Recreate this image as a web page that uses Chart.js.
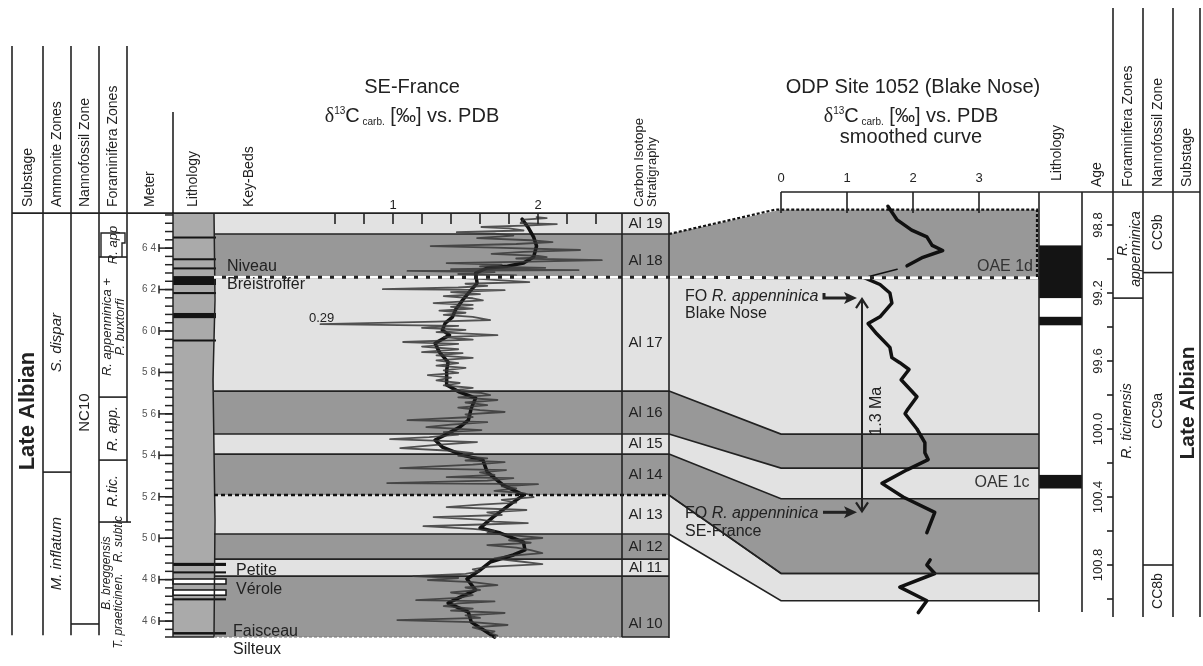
<!DOCTYPE html>
<html>
<head>
<meta charset="utf-8">
<script src="https://cdn.jsdelivr.net/npm/chart.js@4.4.1/dist/chart.umd.min.js"></script>
<style>
html, body { margin: 0; padding: 0; background: #fff; }
canvas { display: block; }
</style>
</head>
<body>
<canvas id="strat" width="1203" height="666"></canvas>
<script>
// ---------- data (meters for SE-France, Ma for Blake Nose) ----------
var bedNames  = ['Al 19', 'Al 18', 'Al 17', 'Al 16', 'Al 15', 'Al 14', 'Al 13', 'Al 12', 'Al 11', 'Al 10'];
var bedBounds = [65.69, 64.68, 62.60, 57.10, 55.03, 54.06, 52.08, 50.20, 48.99, 48.17, 45.23];

// correlation ties SE-France (m) -> Blake Nose (Ma)
var tieMeters = [64.68, 62.60, 57.10, 55.03, 54.06, 52.08, 50.20];
var tieAges   = [98.71, 99.11, 100.03, 100.23, 100.41, 100.85, 101.01];

// SE-France d13C smoothed curve
var seSmoothM = [65.40, 65.02, 64.53, 64.10, 63.57, 63.28, 63.13, 63.04, 62.80, 62.31, 61.83, 61.49, 61.01, 60.67, 60.38, 60.04,
  59.80, 59.41, 58.98, 58.50, 58.11, 57.39, 57.05, 56.76, 56.28, 55.70, 55.36, 54.98, 54.74, 54.40, 54.01, 53.77, 53.19,
  52.56, 52.08, 51.69, 51.02, 50.49, 50.25, 49.81, 49.43, 49.19, 48.85, 48.46, 48.03, 47.50, 47.11, 46.87, 46.43, 45.95, 45.23];
var seSmoothV = [1.89, 1.93, 1.97, 1.99, 1.97, 1.90, 1.79, 1.65, 1.57, 1.58, 1.52, 1.48, 1.43, 1.41, 1.36, 1.34,
  1.39, 1.29, 1.32, 1.38, 1.37, 1.37, 1.46, 1.57, 1.54, 1.52, 1.46, 1.36, 1.29, 1.34, 1.48, 1.62, 1.65,
  1.76, 1.90, 1.82, 1.69, 1.60, 1.74, 1.90, 1.91, 1.83, 1.67, 1.60, 1.51, 1.57, 1.45, 1.38, 1.52, 1.54, 1.70];

// SE-France d13C raw measurements
var seRawM = [65.50, 65.45, 65.38, 65.21, 65.16, 65.10, 65.02, 64.95, 64.85, 64.77, 64.70, 64.60, 64.48, 64.38, 64.29, 64.20,
  64.10, 64.02, 63.91, 63.82, 63.72, 63.63, 63.57, 63.50, 63.42, 63.35, 63.28, 63.20, 63.12, 63.05, 62.99, 62.94,
  62.90, 62.84, 62.75, 62.68, 62.60, 62.52, 62.44, 62.36, 62.28, 62.18, 62.10, 62.02, 61.97, 61.88, 61.78, 61.68,
  61.58, 61.48, 61.35, 61.26, 61.16, 61.08, 60.98, 60.88, 60.78, 60.68, 60.53, 60.45, 60.33, 60.25, 60.15, 60.05,
  59.95, 59.80, 59.70, 59.58, 59.47, 59.38, 59.25, 59.12, 58.98, 58.93, 58.82, 58.70, 58.58, 58.45, 58.33, 58.22,
  58.10, 57.98, 57.87, 57.75, 57.62, 57.49, 57.38, 57.25, 57.12, 57.02, 56.91, 56.80, 56.67, 56.55, 56.42, 56.30,
  56.18, 56.09, 55.98, 55.85, 55.70, 55.60, 55.48, 55.36, 55.22, 55.12, 55.00, 54.88, 54.78, 54.64, 54.50, 54.35,
  54.22, 54.10, 53.98, 53.85, 53.75, 53.67, 53.55, 53.38, 53.29, 53.18, 53.05, 52.95, 52.90, 52.78, 52.66, 52.61,
  52.50, 52.40, 52.28, 52.18, 52.08, 51.98, 51.85, 51.72, 51.62, 51.50, 51.36, 51.25, 51.12, 51.02, 50.90, 50.80,
  50.73, 50.65, 50.58, 50.45, 50.35, 50.25, 50.12, 50.01, 49.90, 49.78, 49.67, 49.55, 49.42, 49.28, 49.15, 49.02,
  48.90, 48.75, 48.62, 48.50, 48.40, 48.28, 48.17, 48.08, 47.98, 47.88, 47.74, 47.62, 47.50, 47.38, 47.25, 47.12,
  47.01, 46.95, 46.85, 46.72, 46.60, 46.50, 46.39, 46.28, 46.15, 46.05, 45.95, 45.81, 45.70, 45.60, 45.50, 45.42, 45.30];
var seRawV = [1.99, 2.06, 1.90, 1.88, 2.13, 1.95, 1.61, 1.80, 1.90, 1.44, 1.70, 1.83, 1.58, 1.95, 2.10, 1.85,
  1.26, 1.70, 2.29, 1.90, 1.68, 2.00, 2.06, 1.85, 2.44, 1.95, 1.37, 1.75, 1.60, 2.05, 1.40, 2.28,
  1.10, 1.70, 1.45, 1.85, 1.32, 1.60, 1.75, 1.94, 1.50, 1.65, 1.45, 0.93, 1.77, 1.40, 1.60, 1.35,
  1.55, 1.62, 1.28, 1.55, 1.40, 1.55, 1.32, 1.50, 1.35, 1.55, 1.67, 1.30, 0.50, 1.45, 1.20, 1.50,
  1.30, 1.72, 1.35, 1.55, 1.07, 1.45, 1.20, 1.45, 1.20, 1.48, 1.30, 1.55, 1.30, 1.45, 1.30, 1.50,
  1.35, 1.45, 1.24, 1.40, 1.30, 1.46, 1.35, 1.55, 1.40, 1.60, 1.67, 1.45, 1.72, 1.50, 1.65, 1.45,
  1.60, 1.77, 1.50, 1.55, 1.10, 1.65, 1.40, 1.23, 1.61, 1.35, 1.45, 1.25, 0.98, 1.58, 1.30, 1.05,
  1.40, 1.55, 1.45, 1.65, 1.50, 1.77, 1.55, 1.05, 1.78, 1.60, 1.70, 1.37, 1.83, 1.65, 0.96, 2.00,
  1.75, 1.85, 1.70, 1.90, 1.95, 1.97, 1.75, 1.85, 1.60, 1.37, 1.92, 1.65, 1.75, 1.28, 1.60, 1.70,
  1.93, 1.55, 1.21, 1.55, 1.70, 1.65, 1.85, 2.03, 1.80, 1.95, 1.65, 1.85, 1.95, 2.03, 1.80, 1.70,
  1.85, 2.03, 1.65, 1.55, 1.60, 1.50, 1.14, 1.45, 1.24, 1.55, 1.72, 1.50, 1.60, 1.40, 1.55, 1.45,
  1.16, 1.70, 1.45, 1.35, 1.55, 1.40, 1.77, 1.50, 1.60, 1.03, 1.55, 1.79, 1.55, 1.60, 1.70, 1.67, 1.72];

// Blake Nose smoothed curve, three pieces plus a thin link
var bnAgeA = [98.69, 98.77, 98.83, 98.87, 98.92, 98.95, 98.99, 99.04];
var bnValA = [1.62, 1.76, 1.98, 2.21, 2.29, 2.45, 2.15, 1.91];
var bnLinkAge = [99.06, 99.11];
var bnLinkVal = [1.76, 1.26];
var bnAgeB = [99.11, 99.15, 99.20, 99.26, 99.34, 99.38, 99.44, 99.52, 99.58, 99.61, 99.65, 99.71, 99.81, 99.89, 99.91,
  100.00, 100.08, 100.14, 100.18, 100.24, 100.32, 100.40, 100.49, 100.61];
var bnValB = [1.26, 1.50, 1.65, 1.68, 1.50, 1.32, 1.45, 1.65, 1.68, 1.80, 1.94, 1.82, 2.06, 1.91, 1.88,
  2.06, 2.18, 2.18, 2.23, 1.91, 1.53, 1.85, 2.33, 2.21];
var bnAgeC = [100.77, 100.80, 100.85, 100.93, 101.01, 101.08];
var bnValC = [2.26, 2.21, 2.33, 1.80, 2.21, 2.08];

// lithology (SE-France, m)
var lithBlackTop  = [64.56, 63.51, 63.07, 62.65, 61.88, 60.87, 59.59, 48.81, 48.40, 47.10, 45.47];
var lithBlackBase = [64.50, 63.43, 63.01, 62.22, 61.78, 60.62, 59.53, 48.66, 48.30, 47.00, 45.35];
var lithWhiteTop  = [48.03, 47.50];
var lithWhiteBase = [47.79, 47.25];
// lithology (Blake Nose, Ma)
var bnBlackTop  = [98.92, 99.34, 100.27];
var bnBlackBase = [99.23, 99.39, 100.35];

// biozones
var ammBounds = [65.69, 53.19, 45.32];
var ammNames = ['S. dispar', 'M. inflatum'];
var nannoBase = 45.86;
var foramBounds = [64.73, 63.57, 56.81, 53.77, 50.78];
var rForamBound = 99.23;
var rNannoBounds = [99.08, 100.80];
var foAges = [99.23, 100.49];  // FO R. appenninica Blake Nose / SE-France

// tick labels
var meterTicks = [46, 48, 50, 52, 54, 56, 58, 60, 62, 64];
var seTicks = [1, 2];
var bnTicks = [0, 1, 2, 3];
var ageTicks = [98.8, 99.2, 99.6, 100.0, 100.4, 100.8];

// ---------- drawing helpers ----------
var FONT = '"Liberation Sans", Arial, sans-serif';
var DARK = '#989898', LIGHT = '#e2e2e2', INK = '#222';
var UP = -Math.PI / 2;

function txt(ctx, s, x, y, o) {
    o = o || {};
    ctx.save();
    ctx.translate(x, y);
    if (o.rot) ctx.rotate(o.rot);
    ctx.font = o.font || ('14px ' + FONT);
    ctx.fillStyle = o.color || INK;
    ctx.textAlign = o.align || 'center';
    ctx.textBaseline = o.base || 'middle';
    ctx.fillText(s, 0, 0);
    ctx.restore();
}

function path(ctx, pts, w, color, dash) {
    ctx.save();
    ctx.beginPath();
    ctx.moveTo(pts[0][0], pts[0][1]);
    for (var i = 1; i < pts.length; i++) ctx.lineTo(pts[i][0], pts[i][1]);
    ctx.lineWidth = w;
    ctx.strokeStyle = color;
    ctx.setLineDash(dash || []);
    ctx.stroke();
    ctx.restore();
}

function poly(ctx, pts, fill) {
    ctx.beginPath();
    ctx.moveTo(pts[0][0], pts[0][1]);
    for (var i = 1; i < pts.length; i++) ctx.lineTo(pts[i][0], pts[i][1]);
    ctx.closePath();
    ctx.fillStyle = fill;
    ctx.fill();
}

// pieces: [text, font, dy]
function runs(ctx, pieces, x, y, align) {
    var w = 0, i;
    for (i = 0; i < pieces.length; i++) { ctx.font = pieces[i][1]; w += ctx.measureText(pieces[i][0]).width; }
    var cx = align === 'left' ? x : x - w / 2;
    ctx.save();
    ctx.fillStyle = INK;
    ctx.textBaseline = 'alphabetic';
    ctx.textAlign = 'left';
    for (i = 0; i < pieces.length; i++) {
        ctx.font = pieces[i][1];
        ctx.fillText(pieces[i][0], cx, y + pieces[i][2]);
        cx += ctx.measureText(pieces[i][0]).width;
    }
    ctx.restore();
}

function deltaTitle(ctx, x, y) {
    runs(ctx, [
        ['\u03b4', '20px "Liberation Serif", serif', 0],
        ['13', '10px ' + FONT, -8],
        ['C', '20px ' + FONT, 0],
        [' carb.', '10px ' + FONT, 3],
        [' [\u2030] vs. PDB', '20px ' + FONT, 0]
    ], x, y);
}

function arrowHead(ctx, x, y, dir, open) {
    ctx.save();
    ctx.translate(x, y);
    ctx.rotate(dir);
    ctx.beginPath();
    if (open) {
        ctx.moveTo(-9, -6); ctx.lineTo(0, 0); ctx.lineTo(-9, 6);
        ctx.lineWidth = 2.2; ctx.strokeStyle = INK; ctx.stroke();
    } else {
        ctx.moveTo(0, 0); ctx.lineTo(-13, -6); ctx.lineTo(-10, 0); ctx.lineTo(-13, 6); ctx.closePath();
        ctx.fillStyle = INK; ctx.fill();
    }
    ctx.restore();
}

// x positions of the column frame
var X = { sub: 12, amm: 43, nan: 71, fo: 99, met: 127, lit: 173, litR: 214, alL: 622, alR: 669,
          bnL: 781, bnR: 1039, rlitR: 1082, age: 1113, rfo: 1143, rna: 1173, rsub: 1200 };

var stratPlugin = {
    id: 'strat',
    beforeDatasetsDraw: function (chart) {
        var ctx = chart.ctx, s = chart.scales;
        var ym = function (m) { return s.yM.getPixelForValue(m); };
        var ya = function (a) { return s.yA.getPixelForValue(a); };
        var i;

        // SE-France beds (band area + isotope column)
        for (i = 0; i < bedNames.length; i++) {
            ctx.fillStyle = i % 2 === 0 ? LIGHT : DARK;
            ctx.fillRect(X.litR, ym(bedBounds[i]), X.alR - X.litR, ym(bedBounds[i + 1]) - ym(bedBounds[i]));
        }
        // correlation bands
        for (i = 0; i < tieMeters.length - 1; i++) {
            poly(ctx, [[X.alR, ym(tieMeters[i])], [X.bnL, ya(tieAges[i])], [X.bnR, ya(tieAges[i])],
                       [X.bnR, ya(tieAges[i + 1])], [X.bnL, ya(tieAges[i + 1])], [X.alR, ym(tieMeters[i + 1])]],
                 i % 2 === 0 ? DARK : LIGHT);
        }
        // bed boundaries
        for (i = 1; i < bedBounds.length - 1; i++) {
            if (i === 2 || i === 6) continue;
            path(ctx, [[X.litR, ym(bedBounds[i])], [X.alR, ym(bedBounds[i])]], 1.6, INK);
        }
        for (i = 2; i < tieMeters.length; i++) {
            path(ctx, [[X.alR, ym(tieMeters[i])], [X.bnL, ya(tieAges[i])], [X.bnR, ya(tieAges[i])]], 1.6, INK);
        }

        // SE-France lithology column
        ctx.fillStyle = '#aaaaaa';
        ctx.fillRect(X.lit, ym(bedBounds[0]), X.litR - X.lit, ym(bedBounds[10]) - ym(bedBounds[0]));
        for (i = 0; i < lithBlackTop.length; i++) {
            var r = lithBlackTop[i] < 49 ? 226 : 216;
            ctx.fillStyle = '#141414';
            ctx.fillRect(X.lit, ym(lithBlackTop[i]), r - X.lit, Math.max(2, ym(lithBlackBase[i]) - ym(lithBlackTop[i])));
        }
        for (i = 0; i < lithWhiteTop.length; i++) {
            var y0 = ym(lithWhiteTop[i]), y1 = ym(lithWhiteBase[i]);
            ctx.fillStyle = '#fff';
            ctx.fillRect(X.lit, y0, 226 - X.lit, y1 - y0);
            ctx.strokeStyle = '#141414'; ctx.lineWidth = 1.5;
            ctx.strokeRect(X.lit, y0, 226 - X.lit, y1 - y0);
        }
        path(ctx, [[X.lit, 212], [X.lit, ym(bedBounds[10])]], 1.5, INK);
        path(ctx, [[X.litR, ym(bedBounds[0])], [X.litR + 1, 300], [X.litR - 1, 380], [X.litR + 1, 520], [X.litR, ym(bedBounds[10])]], 1.5, INK);

        // Blake Nose lithology
        ctx.fillStyle = '#141414';
        for (i = 0; i < bnBlackTop.length; i++) {
            ctx.fillRect(X.bnR, ya(bnBlackTop[i]), X.rlitR - X.bnR, ya(bnBlackBase[i]) - ya(bnBlackTop[i]));
        }
    },

    afterDatasetsDraw: function (chart) {
        var ctx = chart.ctx, s = chart.scales;
        var ym = function (m) { return s.yM.getPixelForValue(m); };
        var ya = function (a) { return s.yA.getPixelForValue(a); };
        var xf = function (v) { return s.xF.getPixelForValue(v); };
        var xb = function (v) { return s.xB.getPixelForValue(v); };
        var i, k, y;
        var top = ym(bedBounds[0]), bot = ym(bedBounds[10]);

        // Niveau Breistroffer: white dashed line right across
        var nb = [[X.litR, ym(bedBounds[2])], [X.alR, ym(bedBounds[2])], [X.bnL, ya(tieAges[1])], [X.bnR, ya(tieAges[1])]];
        path(ctx, nb, 3, INK);
        path(ctx, nb, 3, '#fff', [8, 4]);
        // Al 14 / Al 13 dotted line
        path(ctx, [[X.litR, ym(bedBounds[6])], [X.alR, ym(bedBounds[6])]], 2.5, '#111', [4, 3]);
        path(ctx, [[X.alR, ym(tieMeters[5])], [X.bnL, ya(tieAges[5])], [X.bnR, ya(tieAges[5])]], 1.6, INK);
        // top of correlation, dotted
        path(ctx, [[X.alR, ym(tieMeters[0])], [X.bnL - 6, ya(tieAges[0])], [X.bnR - 2, ya(tieAges[0])], [X.bnR - 2, ya(tieAges[1])]], 2.2, '#111', [3, 2]);
        // bottom of SE section
        path(ctx, [[X.litR, bot], [X.alL, bot]], 1, '#777', [3, 2]);

        // frame of SE-France panel
        path(ctx, [[X.sub, top], [X.alR, top]], 1.6, INK);
        path(ctx, [[X.alL, top], [X.alL, bot]], 1.6, INK);
        path(ctx, [[X.alR, top], [X.alR, bot + 1]], 1.6, INK);
        path(ctx, [[X.alL, bot], [X.alR, bot]], 1.6, INK);
        path(ctx, [[X.lit - 8, bot], [X.litR, bot]], 1.6, INK);

        // SE d13C axis
        for (k = 0; k <= 9; k++) {
            var v = 0.6 + 0.2 * k;
            path(ctx, [[xf(v), top], [xf(v), top + 11]], 1.6, INK);
        }
        for (i = 0; i < seTicks.length; i++) txt(ctx, String(seTicks[i]), xf(seTicks[i]), top - 8, { font: '13px ' + FONT });

        // bed labels
        var nudge = { 'Al 18': 5, 'Al 17': 9, 'Al 10': 17 };
        for (i = 0; i < bedNames.length; i++) {
            y = (ym(bedBounds[i]) + ym(bedBounds[i + 1])) / 2 + (nudge[bedNames[i]] || 0);
            txt(ctx, bedNames[i], (X.alL + X.alR) / 2, y, { font: '15px ' + FONT });
        }

        // meter axis
        for (k = 0; k <= 50; k++) {
            var m = 45.6 + 0.4 * k;
            y = ym(m);
            if (y < top - 1) break;
            path(ctx, [[X.lit - 8, y], [X.lit, y]], 1.5, INK);
        }
        for (i = 0; i < meterTicks.length; i++) {
            y = ym(meterTicks[i]);
            path(ctx, [[X.lit - 14, y], [X.lit, y]], 1.5, INK);
            path(ctx, [[X.lit - 14, y - 4], [X.lit - 14, y + 4]], 1.5, INK);
            txt(ctx, String(meterTicks[i]).split('').join(' '), 149, y, { font: '10px ' + FONT, color: '#555' });
        }

        // left biozone columns
        [X.sub, X.amm, X.nan, X.fo].forEach(function (x) { path(ctx, [[x, 46], [x, ym(ammBounds[2])]], 1.6, INK); });
        path(ctx, [[X.met, 46], [X.met, ym(foramBounds[4])]], 1.6, INK);
        path(ctx, [[X.lit, 112], [X.lit, top]], 1.6, INK);
        path(ctx, [[X.amm, ym(ammBounds[1])], [X.nan, ym(ammBounds[1])]], 1.6, INK);
        path(ctx, [[X.nan, ym(nannoBase)], [X.fo, ym(nannoBase)]], 1.6, INK);
        // R. app box
        path(ctx, [[X.fo + 2, ym(foramBounds[1])], [X.fo + 2, ym(foramBounds[0])], [X.met - 2, ym(foramBounds[0])], [X.met - 2, ym(foramBounds[0]) + 10], [X.met - 5, ym(foramBounds[0]) + 10], [X.met - 5, ym(foramBounds[1])]], 1.4, INK);
        for (i = 1; i < foramBounds.length; i++) {
            path(ctx, [[X.fo, ym(foramBounds[i])], [i === 4 ? X.met + 4 : X.met, ym(foramBounds[i])]], 1.6, INK);
        }

        var it = function (px) { return 'italic ' + px + 'px ' + FONT; };
        txt(ctx, 'Late Albian', 28, (top + bot) / 2 - 14, { rot: UP, font: 'bold 22px ' + FONT });
        for (i = 0; i < ammNames.length; i++) {
            txt(ctx, ammNames[i], 57, (ym(ammBounds[i]) + ym(ammBounds[i + 1])) / 2, { rot: UP, font: it(15) });
        }
        txt(ctx, 'NC10', 85, (top + ym(nannoBase)) / 2 - 6, { rot: UP, font: '15px ' + FONT });
        txt(ctx, 'R. app', 113, (ym(foramBounds[0]) + ym(foramBounds[1])) / 2, { rot: UP, font: it(13) });
        y = (ym(foramBounds[1]) + ym(foramBounds[2])) / 2;
        txt(ctx, 'R. appenninica +', 107, y, { rot: UP, font: it(13) });
        txt(ctx, 'P. buxtorfi', 120, y, { rot: UP, font: it(13) });
        txt(ctx, 'R. app.', 113, (ym(foramBounds[2]) + ym(foramBounds[3])) / 2, { rot: UP, font: it(14) });
        txt(ctx, 'R.tic.', 113, (ym(foramBounds[3]) + ym(foramBounds[4])) / 2, { rot: UP, font: it(14) });
        txt(ctx, 'B. breggensis', 107, 573, { rot: UP, font: it(12) });
        txt(ctx, 'R. subtic', 119, 539, { rot: UP, font: it(12) });
        txt(ctx, 'T. praeticinen.', 119, 611, { rot: UP, font: it(12) });

        // left headers
        var hb = 207;
        txt(ctx, 'Substage', 28, hb, { rot: UP, align: 'left' });
        txt(ctx, 'Ammonite Zones', 57, hb, { rot: UP, align: 'left' });
        txt(ctx, 'Nannofossil Zone', 85, hb, { rot: UP, align: 'left' });
        txt(ctx, 'Foraminifera Zones', 113, hb, { rot: UP, align: 'left' });
        txt(ctx, 'Meter', 150, hb, { rot: UP, align: 'left' });
        txt(ctx, 'Lithology', 193, hb, { rot: UP, align: 'left' });
        txt(ctx, 'Key-Beds', 249, hb, { rot: UP, align: 'left' });
        txt(ctx, 'Carbon Isotope', 639, hb, { rot: UP, align: 'left', font: '13px ' + FONT });
        txt(ctx, 'Stratigraphy', 652, hb, { rot: UP, align: 'left', font: '13px ' + FONT });

        // key beds
        var kb = '16px ' + FONT;
        txt(ctx, 'Niveau', 227, 267, { align: 'left', font: kb });
        txt(ctx, 'Breistroffer', 227, 285, { align: 'left', font: kb });
        txt(ctx, 'Petite', 236, 571, { align: 'left', font: kb });
        txt(ctx, 'V\u00e9role', 236, 590, { align: 'left', font: kb });
        txt(ctx, 'Faisceau', 233, 632, { align: 'left', font: kb });
        txt(ctx, 'Silteux', 233, 650, { align: 'left', font: kb });
        txt(ctx, '0.29', 309, 318, { align: 'left', font: '13px ' + FONT });

        // titles
        txt(ctx, 'SE-France', 412, 87, { font: '20px ' + FONT });
        deltaTitle(ctx, 412, 122);
        txt(ctx, 'ODP Site 1052 (Blake Nose)', 913, 87, { font: '20px ' + FONT });
        deltaTitle(ctx, 911, 122);
        txt(ctx, 'smoothed curve', 911, 137, { font: '20px ' + FONT });

        // Blake Nose axis + right frame
        var ht = ya(98.606);
        path(ctx, [[X.bnL, ht], [X.rsub, ht]], 1.6, INK);
        for (i = 0; i < bnTicks.length; i++) {
            path(ctx, [[xb(bnTicks[i]), ht], [xb(bnTicks[i]), ht + 21]], 1.6, INK);
            txt(ctx, String(bnTicks[i]), xb(bnTicks[i]), ht - 14, { font: '13px ' + FONT });
        }
        path(ctx, [[X.bnR, ht], [X.bnR, 612]], 1.6, INK);
        path(ctx, [[X.rlitR, ht], [X.rlitR, 612]], 1.6, INK);
        [X.age, X.rfo, X.rna, X.rsub].forEach(function (x) { path(ctx, [[x, 8], [x, 617]], 1.6, INK); });
        path(ctx, [[X.age, ya(rForamBound)], [X.rfo, ya(rForamBound)]], 1.6, INK);
        for (i = 0; i < rNannoBounds.length; i++) path(ctx, [[X.rfo, ya(rNannoBounds[i])], [X.rna, ya(rNannoBounds[i])]], 1.6, INK);

        // age axis
        for (k = 0; k <= 11; k++) {
            y = ya(98.8 + 0.2 * k);
            path(ctx, [[X.age - 6, y], [X.age, y]], 1.6, INK);
        }
        for (i = 0; i < ageTicks.length; i++) {
            txt(ctx, ageTicks[i].toFixed(1), 1098, ya(ageTicks[i]), { rot: UP, font: '13px ' + FONT });
        }

        // right columns text
        txt(ctx, 'R.', 1123, 249, { rot: UP, font: it(14) });
        txt(ctx, 'appenninica', 1136, 249, { rot: UP, font: it(14) });
        txt(ctx, 'R. ticinensis', 1127, 421, { rot: UP, font: it(14) });
        txt(ctx, 'CC9b', 1158, (ht + ya(rNannoBounds[0])) / 2, { rot: UP, font: '14px ' + FONT });
        txt(ctx, 'CC9a', 1158, (ya(rNannoBounds[0]) + ya(rNannoBounds[1])) / 2 - 8, { rot: UP, font: '14px ' + FONT });
        txt(ctx, 'CC8b', 1158, (ya(rNannoBounds[1]) + 617) / 2, { rot: UP, font: '14px ' + FONT });
        txt(ctx, 'Late Albian', 1188, 403, { rot: UP, font: 'bold 21px ' + FONT });
        var rh = 187;
        txt(ctx, 'Lithology', 1057, 181, { rot: UP, align: 'left' });
        txt(ctx, 'Age', 1097, rh, { rot: UP, align: 'left' });
        txt(ctx, 'Foraminifera Zones', 1128, rh, { rot: UP, align: 'left' });
        txt(ctx, 'Nannofossil Zone', 1158, rh, { rot: UP, align: 'left' });
        txt(ctx, 'Substage', 1187, rh, { rot: UP, align: 'left' });

        // OAE labels
        txt(ctx, 'OAE 1d', 1005, 267, { font: '16px ' + FONT, color: '#333' });
        txt(ctx, 'OAE 1c', 1002, 483, { font: '16px ' + FONT, color: '#333' });

        // FO R. appenninica annotations and 1.3 Ma arrow
        var yb = ya(foAges[0]), yf = ya(foAges[1]);
        runs(ctx, [['FO ', '16px ' + FONT, 0], ['R. appenninica', it(16), 0]], 685, yb + 3, 'left');
        txt(ctx, 'Blake Nose', 685, yb + 15, { align: 'left', font: '16px ' + FONT });
        runs(ctx, [['FO ', '16px ' + FONT, 0], ['R. appenninica', it(16), 0]], 685, yf + 6, 'left');
        txt(ctx, 'SE-France', 685, yf + 19, { align: 'left', font: '16px ' + FONT });
        path(ctx, [[824, yb - 5], [824, yb], [850, yb]], 3, INK);
        arrowHead(ctx, 857, yb, 0, false);
        path(ctx, [[823, yf], [850, yf]], 3, INK);
        arrowHead(ctx, 857, yf, 0, false);
        path(ctx, [[862, yb + 1], [862, yf - 1]], 2, INK);
        arrowHead(ctx, 862, yb + 1, -Math.PI / 2, true);
        arrowHead(ctx, 862, yf - 1, Math.PI / 2, true);
        txt(ctx, '1.3 Ma', 877, (yb + yf) / 2 + 6, { rot: UP, font: '16px ' + FONT });
    }
};

function pts(ys, xs) {
    return ys.map(function (y, i) { return { x: xs[i], y: y }; });
}

function curve(data, xAxis, yAxis, color, width) {
    return {
        data: data, xAxisID: xAxis, yAxisID: yAxis, showLine: true,
        borderColor: color, borderWidth: width, pointRadius: 0,
        borderJoinStyle: 'round', borderCapStyle: 'round', tension: 0
    };
}

var chart = new Chart(document.getElementById('strat'), {
    type: 'scatter',
    data: {
        datasets: [
            curve(pts(seRawM, seRawV), 'xF', 'yM', 'rgba(55,55,55,0.85)', 1.8),
            curve(pts(seSmoothM, seSmoothV), 'xF', 'yM', '#111', 3.5),
            curve(pts(bnAgeA, bnValA), 'xB', 'yA', '#111', 3.5),
            curve(pts(bnLinkAge, bnLinkVal), 'xB', 'yA', '#111', 1.5),
            curve(pts(bnAgeB, bnValB), 'xB', 'yA', '#111', 3.5),
            curve(pts(bnAgeC, bnValC), 'xB', 'yA', '#111', 3.5)
        ]
    },
    options: {
        responsive: false,
        animation: false,
        events: [],
        layout: { padding: 0, autoPadding: false },
        plugins: { legend: { display: false }, tooltip: { enabled: false } },
        scales: {
            xF: { type: 'linear', axis: 'x', display: false, min: -1.7103, max: 6.5862 },
            xB: { type: 'linear', axis: 'x', display: false, min: -11.8333, max: 6.3939 },
            yM: { type: 'linear', axis: 'y', display: false, min: 43.832, max: 75.975 },
            yA: { type: 'linear', axis: 'y', display: false, reverse: true, min: 97.4765, max: 101.3941 }
        }
    },
    plugins: [stratPlugin]
});
</script>
</body>
</html>
